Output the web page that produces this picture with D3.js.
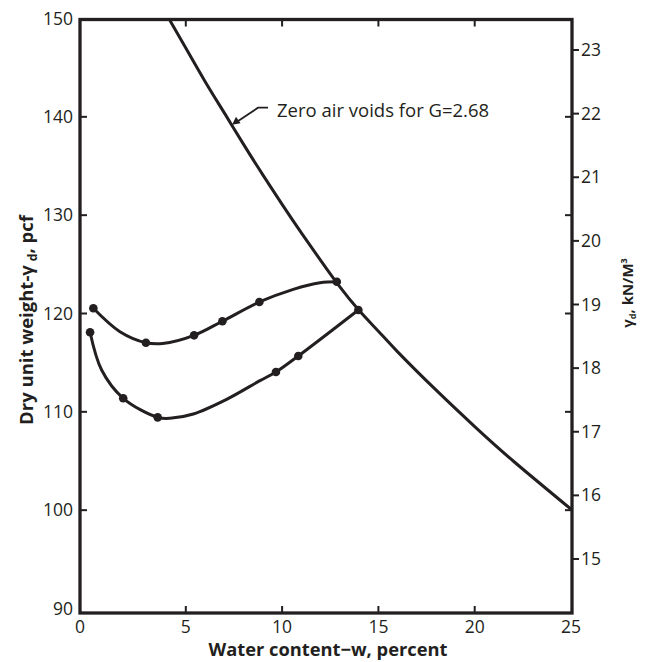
<!DOCTYPE html>
<html><head><meta charset="utf-8">
<script src="https://cdn.jsdelivr.net/npm/d3@7"></script>
<style>body{margin:0;background:#fff}svg{display:block}</style>
</head><body>
<script>
// ---- data ----
const xTicks = [0, 5, 10, 15, 20, 25];
const yTicks = [90, 100, 110, 120, 130, 140, 150];
const kNTicks = [15, 16, 17, 18, 19, 20, 21, 22, 23];

// zero air voids curve (G = 2.68)
const zavW   = [4.0, 5, 6, 7, 8, 9, 10, 11, 12, 13, 14, 15, 16, 18, 20, 22, 25];
const zavPcf = [150.4, 147.0, 143.6, 140.4, 137.2, 134.1, 131.1, 128.2, 125.4, 122.7, 120.3, 118.2, 116.1, 112.2, 108.5, 105.0, 100.1];

// upper compaction curve: measured points and traced line
const upperW   = [0.20, 2.93, 5.43, 6.90, 8.82, 12.84];
const upperPcf = [120.53, 117.03, 117.78, 119.21, 121.17, 123.23];
const upperLineW   = [0.20, 1.58, 2.93, 3.8, 5.43, 6.90, 8.82, 10.58, 11.97, 12.84];
const upperLinePcf = [120.53, 118.15, 117.03, 116.95, 117.78, 119.21, 121.17, 122.46, 123.13, 123.23];

// lower compaction curve
const lowerW   = [0.03, 1.75, 3.54, 9.68, 10.84, 13.96];
const lowerPcf = [118.09, 111.38, 109.44, 114.05, 115.68, 120.36];
const lowerLineW   = [0.03, 0.63, 1.75, 3.54, 4.18, 5.39, 7.12, 8.85, 9.68, 10.84, 13.96];
const lowerLinePcf = [118.09, 114.25, 111.38, 109.44, 109.34, 109.78, 111.27, 113.17, 114.05, 115.68, 120.36];

const annotation = {w: 7.4, pcf: 139.2, text: "Zero air voids for G=2.68"};

// ---- layout ----
const W = 646, H = 662;
const L = 80, R = 572, T = 19.5, B = 613;
const ink = "#231f20";
const font = "'Open Sans', sans-serif";

const x = d3.scaleLinear([0, 25], [89.5, 571]);
const y = d3.scaleLinear([90, 150], [608.5, 18.5]);
const yR = d3.scaleLinear([15, 23], [559, 50]);

const svg = d3.select("body").append("svg").attr("width", W).attr("height", H);

svg.append("defs").append("clipPath").attr("id", "clip")
  .append("rect").attr("x", L).attr("y", T).attr("width", R - L).attr("height", B - T);

// ticks
const g = svg.append("g").attr("stroke", ink).attr("stroke-width", 2);
[5, 10, 15, 20].forEach(v => {
  g.append("line").attr("x1", x(v)).attr("x2", x(v)).attr("y1", B).attr("y2", B - 7);
  g.append("line").attr("x1", x(v)).attr("x2", x(v)).attr("y1", T).attr("y2", T + 7);
});
yTicks.filter(v => v > 90 && v < 150).forEach(v => {
  g.append("line").attr("x1", L).attr("x2", L + 7).attr("y1", y(v)).attr("y2", y(v));
  g.append("line").attr("x1", R - 7).attr("x2", R).attr("y1", y(v)).attr("y2", y(v));
});
kNTicks.forEach(v => {
  g.append("line").attr("x1", R).attr("x2", R + 7).attr("y1", yR(v)).attr("y2", yR(v));
});

// tick labels
const lab = svg.append("g").attr("fill", ink).attr("font-family", font).attr("font-size", 17.5);
xTicks.forEach(v => {
  lab.append("text").attr("x", v === 0 ? L : x(v)).attr("y", B + 20)
    .attr("text-anchor", "middle").text(v);
});
yTicks.forEach(v => {
  lab.append("text").attr("x", L - 7).attr("y", Math.min(y(v), B - 2) + 6)
    .attr("text-anchor", "end").text(v);
});
kNTicks.forEach(v => {
  lab.append("text").attr("x", R + 9).attr("y", yR(v) + 6).text(v);
});

// curves
const plot = svg.append("g").attr("clip-path", "url(#clip)");
const mk = c => d3.line().x(d => x(d[0])).y(d => y(d[1])).curve(c);
const curves = [
  [d3.zip(zavW, zavPcf), d3.curveNatural],
  [d3.zip(upperLineW, upperLinePcf), d3.curveCatmullRom.alpha(0.5)],
  [d3.zip(lowerLineW, lowerLinePcf), d3.curveCatmullRom.alpha(0.5)]
];
curves.forEach(([c, k]) => {
  plot.append("path").attr("d", mk(k)(c)).attr("fill", "none")
    .attr("stroke", ink).attr("stroke-width", 3).attr("stroke-linejoin", "round");
});
const pts = d3.zip(upperW, upperPcf).concat(d3.zip(lowerW, lowerPcf));
svg.append("g").selectAll("circle").data(pts).join("circle")
  .attr("cx", d => x(d[0])).attr("cy", d => y(d[1])).attr("r", 4.3).attr("fill", ink);

// frame
svg.append("rect").attr("x", L).attr("y", T).attr("width", R - L).attr("height", B - T)
  .attr("fill", "none").attr("stroke", ink).attr("stroke-width", 3.3);

// annotation
const ax = x(annotation.w), ay = y(annotation.pcf);
svg.append("path")
  .attr("d", `M${ax + 36},${ay - 17} L${ax + 26},${ay - 17} L${ax + 5},${ay - 3}`)
  .attr("fill", "none").attr("stroke", ink).attr("stroke-width", 1.8);
svg.append("path")
  .attr("d", `M${ax},${ay} L${ax + 4},${ay - 8} L${ax + 8.5},${ay - 1.5} Z`)
  .attr("fill", ink);
svg.append("text").attr("x", ax + 45).attr("y", ay - 7.5)
  .attr("font-family", font).attr("font-size", 18.5).attr("fill", ink)
  .text(annotation.text);

// axis titles
svg.append("text").attr("x", 328).attr("y", 656).attr("text-anchor", "middle")
  .attr("font-family", font).attr("font-weight", "bold").attr("font-size", 18.3)
  .attr("fill", ink).text("Water content\u2212w, percent");

const lt = svg.append("text").attr("transform", "translate(33,320) rotate(-90)")
  .attr("text-anchor", "middle").attr("font-family", font).attr("font-weight", "bold")
  .attr("font-size", 18.5).attr("fill", ink);
lt.append("tspan").text("Dry unit weight-\u03B3");
lt.append("tspan").attr("font-size", 12).attr("dy", 4).attr("dx", 4).text("d");
lt.append("tspan").attr("dy", -4).text(", pcf");

const rt = svg.append("text").attr("transform", "translate(633,293) rotate(-90)")
  .attr("text-anchor", "middle").attr("font-family", font).attr("font-weight", "bold")
  .attr("font-size", 15).attr("fill", ink);
rt.append("tspan").text("\u03B3");
rt.append("tspan").attr("font-size", 9).attr("dy", 3).text("d");
rt.append("tspan").attr("dy", -3).text(", kN/M");
rt.append("tspan").attr("font-size", 9).attr("dy", -6).text("3");
</script>
</body></html>
